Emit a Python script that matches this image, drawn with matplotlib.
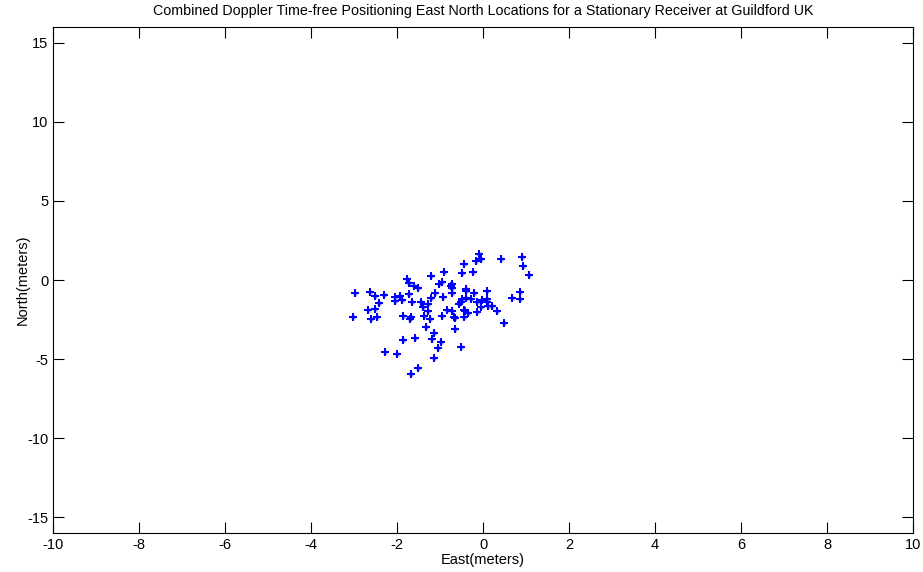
import matplotlib
matplotlib.use("Agg")
import matplotlib.pyplot as plt

# East / North positions (meters)
east = [-2.98, -2.62, -2.51, -2.31, -2.41, -2.68, -2.52, -3.02, -2.61, -2.47,
        -2.04, -2.04, -1.93, -1.89, -1.77, -1.71, -1.60, -1.52, -1.72, -1.66,
        -1.45, -1.21, -1.12, -1.21, -1.29, -1.39, -1.28, -1.37, -1.23, -1.86,
        -1.69, -1.67, -1.32, -1.14, -1.19, -1.57, -1.87, -1.04, -2.27, -1.99,
        -1.15, -1.52, -1.67, -1.02, -0.09, -0.45, -0.16, -0.05, 0.42, 0.91,
        0.94, 1.06, -0.90, -0.50, -0.23, -0.96, -0.71, -0.75, -0.71, -0.71,
        -0.40, -0.40, -0.21, 0.10, -0.93, -0.48, -0.52, -0.56, -0.40, -0.27,
        -0.13, -0.03, 0.10, 0.10, 0.12, 0.22, -0.04, 0.33, -0.15, 0.68,
        0.86, 0.86, 0.49, -0.83, -0.71, -0.45, -0.42, -0.34, -0.95, -0.67,
        -0.64, -0.44, -0.65, -0.97, -0.52]
north = [-0.84, -0.74, -1.01, -0.95, -1.46, -1.92, -1.85, -2.36, -2.45, -2.36,
         -1.09, -1.31, -0.99, -1.27, 0.06, -0.21, -0.38, -0.49, -0.89, -1.37,
         -1.37, 0.25, -0.80, -1.12, -1.54, -1.69, -1.98, -2.28, -2.49, -2.28,
         -2.45, -2.36, -2.96, -3.34, -3.72, -3.65, -3.78, -4.30, -4.58, -4.68,
         -4.94, -5.55, -5.97, -0.27, 1.66, 1.01, 1.18, 1.31, 1.35, 1.47,
         0.89, 0.34, 0.53, 0.46, 0.51, -0.11, -0.23, -0.38, -0.49, -0.84,
         -0.55, -0.68, -0.84, -0.68, -1.06, -1.20, -1.37, -1.50, -1.12, -1.18,
         -1.37, -1.28, -1.20, -1.37, -1.63, -1.65, -1.71, -1.96, -2.03, -1.16,
         -0.74, -1.22, -2.70, -1.88, -1.96, -1.88, -1.96, -2.07, -2.26, -2.32,
         -2.42, -2.36, -3.10, -3.91, -4.26]

xticks = list(range(-10, 11, 2))
yticks = [-15, -10, -5, 0, 5, 10, 15]

plt.rcParams['font.family'] = ['Liberation Sans', 'DejaVu Sans']
plt.rcParams['axes.unicode_minus'] = False

fig = plt.figure(figsize=(9.23, 5.72), dpi=100)
ax = fig.add_axes([53 / 923, 39 / 572, 860 / 923, 506 / 572])

ax.plot(east, north, linestyle='none', marker=(4, 2, 0), markersize=5.5,
        markeredgewidth=1.1, color='blue')
ax.plot(east, north, linestyle='none', marker=(4, 2, 45), markersize=3.5,
        markeredgewidth=0.8, color='blue', alpha=0.5)

ax.set_xlim(-10, 10)
ax.set_ylim(-16, 16)
ax.set_xticks(xticks)
ax.set_yticks(yticks)
ax.tick_params(direction='in', length=8, width=0.8, top=True, right=True,
               labelsize=10.5)
for s in ax.spines.values():
    s.set_linewidth(0.8)

ax.set_xlabel('East(meters)', fontsize=10.5, labelpad=1)
ax.set_ylabel('North(meters)', fontsize=10.5, labelpad=-2)
ax.set_title('Combined Doppler Time-free Positioning East North Locations for a Stationary Receiver at Guildford UK',
             fontsize=10.3, pad=9)

fig.savefig('out.png', dpi=100)
